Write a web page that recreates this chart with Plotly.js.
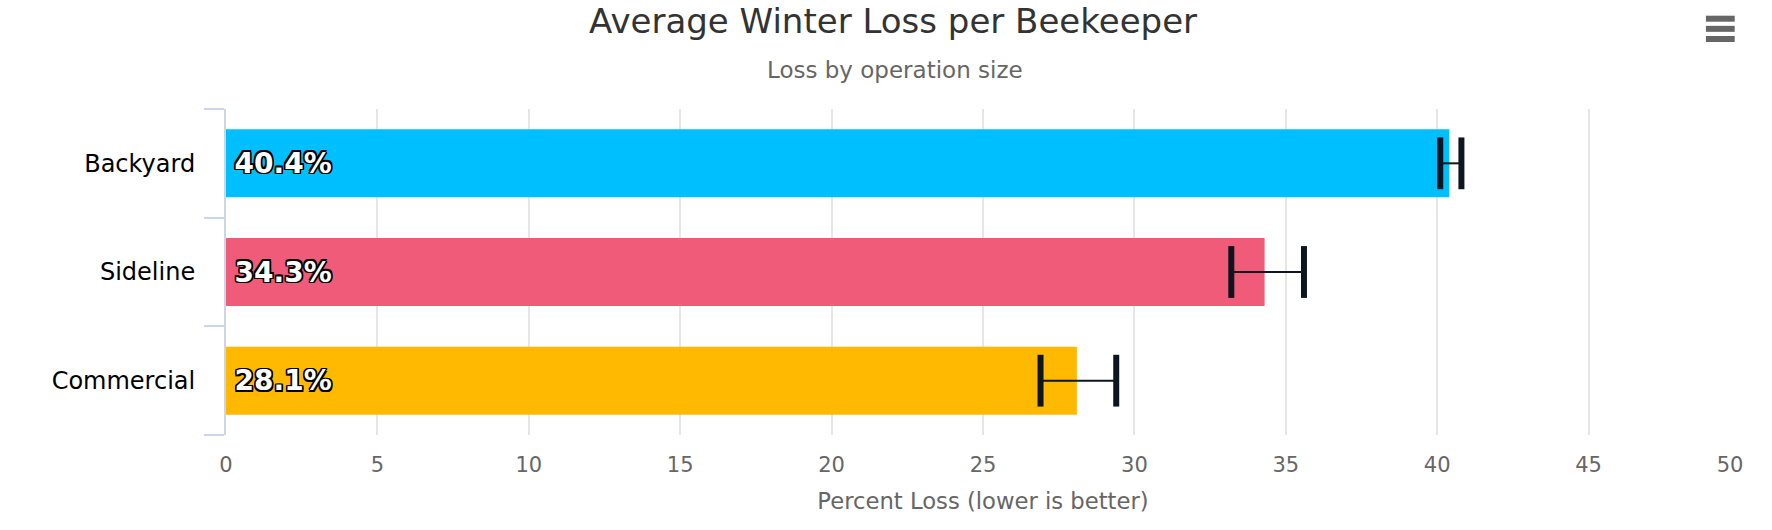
<!DOCTYPE html>
<html>
<head>
<meta charset="utf-8">
<script src="https://cdn.plot.ly/plotly-3.0.1.min.js"></script>
<style>
html,body{margin:0;padding:0;background:#fff;}
#chart{width:1772px;height:530px;}
</style>
</head>
<body>
<div id="chart"></div>
<script>
// ---- data ----
var categories = ['Backyard', 'Sideline', 'Commercial'];
var lossValues = [40.4, 34.3, 28.1];
var lossLow = [40.1, 33.2, 26.9];
var lossHigh = [40.8, 35.6, 29.4];
var barColors = ['#00bfff', '#ef5b79', '#ffb900'];
var xTickValues = [0, 5, 10, 15, 20, 25, 30, 35, 40, 45, 50];
var xTickLabels = ['0', '5', '10', '15', '20', '25', '30', '35', '40', '45', '50'];
var chartTitle = 'Average Winter Loss per Beekeeper';
var chartSubtitle = 'Loss by operation size';
var xAxisTitle = 'Percent Loss (lower is better)';

var idx = categories.map(function (_, i) { return i; });
var boundaries = [-0.5].concat(idx.map(function (i) { return i + 0.5; }));
var errColor = '#0d1520';
var outline = '-1.5px -1.5px 0 #000, 1.5px -1.5px 0 #000, -1.5px 1.5px 0 #000, 1.5px 1.5px 0 #000, 0 1.5px 0 #000, 0 -1.5px 0 #000, 1.5px 0 0 #000, -1.5px 0 0 #000';

// last label is pulled inward like the original (kept inside the plot edge)
var shownTickLabels = xTickLabels.map(function (t, i) {
  return i === xTickLabels.length - 1 ? t + '\u00a0\u00a0\u00a0' : t;
});

var bars = {
  type: 'bar',
  orientation: 'h',
  x: lossValues,
  y: idx,
  marker: { color: barColors, line: { width: 0 } },
  text: lossValues.map(function (v) { return '\u2009' + v.toFixed(1) + '%'; }),
  textposition: 'inside',
  insidetextanchor: 'start',
  constraintext: 'none',
  textfont: { family: 'DejaVu Sans', size: 28, color: '#ffffff', weight: 700, shadow: outline },
  error_x: {
    type: 'data', symmetric: false,
    array: lossValues.map(function (v, i) { return lossHigh[i] - v; }),
    arrayminus: lossValues.map(function (v, i) { return v - lossLow[i]; }),
    color: errColor, thickness: 2, width: 0
  },
  hoverinfo: 'skip',
  showlegend: false
};

var caps = {
  type: 'scatter',
  mode: 'markers',
  x: lossLow.concat(lossHigh),
  y: idx.concat(idx),
  marker: { symbol: 'line-ns', size: 37, color: errColor, line: { width: 6, color: errColor } },
  hoverinfo: 'skip',
  showlegend: false,
  cliponaxis: false
};

var layout = {
  width: 1772,
  height: 530,
  margin: { l: 225.6, r: 32, t: 109, b: 95 },
  paper_bgcolor: '#ffffff',
  plot_bgcolor: '#ffffff',
  bargap: 0.374,
  font: { family: 'DejaVu Sans', color: '#666666' },
  title: {
    text: chartTitle,
    font: { family: 'DejaVu Sans', size: 34, color: '#333333' },
    xref: 'container', x: 0.504, xanchor: 'center',
    yref: 'container', y: 0.961, yanchor: 'middle'
  },
  annotations: [{
    text: chartSubtitle,
    xref: 'paper', yref: 'paper', x: 0.442, y: 1.12,
    xanchor: 'center', yanchor: 'middle', showarrow: false,
    font: { family: 'DejaVu Sans', size: 23, color: '#666666' }
  }],
  xaxis: {
    range: [0, 50],
    tickvals: xTickValues,
    ticktext: shownTickLabels,
    ticks: '',
    showgrid: true, gridcolor: '#e6e6e6', gridwidth: 2,
    zeroline: false, showline: false,
    tickfont: { family: 'DejaVu Sans', size: 21, color: '#666666' },
    ticklabelstandoff: 15,
    title: { text: xAxisTitle, font: { family: 'DejaVu Sans', size: 22.7, color: '#666666' }, standoff: 17 },
    fixedrange: true
  },
  yaxis: {
    range: [idx.length - 0.5, -0.5],
    tickvals: idx,
    ticktext: categories,
    ticks: '',
    showgrid: false, zeroline: false,
    showline: true, linecolor: '#ccd6eb', linewidth: 2,
    tickfont: { family: 'DejaVu Sans', size: 24, color: '#000000' },
    ticklabelstandoff: 24,
    minor: { tickvals: boundaries, ticks: 'outside', ticklen: 20, tickwidth: 2, tickcolor: '#ccd6eb', showgrid: false },
    fixedrange: true
  },
  shapes: [0, 1, 2].map(function (k) {
    var yy = 1.2770 - k * 0.0311;
    return { type: 'line', xref: 'paper', yref: 'paper', x0: 0.9775, x1: 0.9965, y0: yy, y1: yy,
             line: { color: '#666666', width: 6 } };
  })
};

Plotly.newPlot('chart', [bars, caps], layout, { displayModeBar: false, staticPlot: true });
</script>
</body>
</html>
